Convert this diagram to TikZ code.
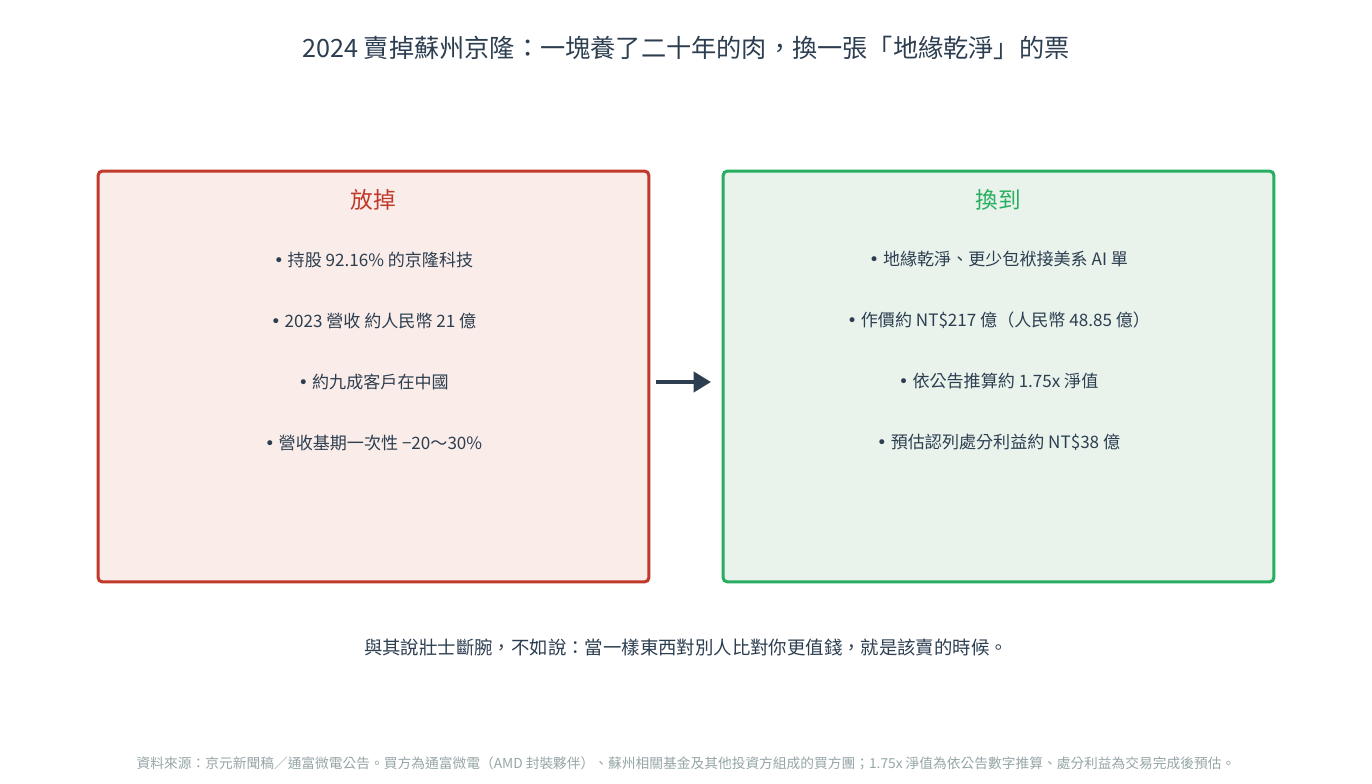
\documentclass[tikz,border=0pt]{standalone}
\usepackage{fontspec}
\setmainfont{Noto Sans CJK TC}
\newfontfamily\dotfont{DejaVu Sans}
\usetikzlibrary{positioning, arrows.meta}
\definecolor{ink}{HTML}{2C3E50}
\definecolor{lossred}{HTML}{C0392B}
\definecolor{lossfill}{HTML}{FAECE8}
\definecolor{gaingreen}{HTML}{27AE60}
\definecolor{gainfill}{HTML}{E9F3EC}
\definecolor{srcgray}{HTML}{95A5A6}
\newcommand{\bul}{{\dotfont •}\ }

\begin{document}
\begin{tikzpicture}[x=0.75pt, y=-0.75pt, node distance=45.75pt,
    panel/.style={draw, line width=2.3pt, rounded corners=3pt, minimum width=413pt, minimum height=308pt, inner sep=0pt},
    heading/.style={font=\fontsize{17}{20}\selectfont, inner sep=0pt},
    item/.style={font=\fontsize{12.8}{15}\selectfont, text=ink, inner sep=0pt}]
		\useasboundingbox (0,0) rectangle (1372,784);
		\node[font=\fontsize{18.9}{22}\selectfont, text=ink] (title) at (686,48) {2024 賣掉蘇州京隆：一塊養了二十年的肉，換一張「地緣乾淨」的票};
		
		\node[panel, draw=lossred, fill=lossfill] (lose) at (373.5,376.5) {};
		\node[panel, draw=gaingreen, fill=gainfill] (gain) at (998.5,376.5) {};
		
		\node[heading, text=lossred] (loseh) at (373.5,200) {放掉};
		\node[item] (l1) at (373.5,260) {\bul 持股 92.16\% 的京隆科技};
		\node[item] (l2) [below of=l1] {\bul 2023 營收 約人民幣 21 億};
		\node[item] (l3) [below of=l2] {\bul 約九成客戶在中國};
		\node[item] (l4) [below of=l3] {\bul 營收基期一次性 −20～30\%};
		
		\node[heading, text=gaingreen] (gainh) at (998.5,200) {換到};
		\node[item] (g1) at (998.5,259) {\bul 地緣乾淨、更少包袱接美系 AI 單};
		\node[item] (g2) [below of=g1] {\bul 作價約 NT\$217 億（人民幣 48.85 億）};
		\node[item] (g3) [below of=g2] {\bul 依公告推算約 1.75x 淨值};
		\node[item] (g4) [below of=g3] {\bul 預估認列處分利益約 NT\$38 億};
		
		\draw[-{Triangle[length=13pt, width=15pt]}, line width=3pt, ink, shorten <=4pt, shorten >=8pt] (lose.east |- l3) -- (gain.west |- l3);
		
		\node[item, font=\fontsize{13.8}{16}\selectfont] (moral) at (686,647) {與其說壯士斷腕，不如說：當一樣東西對別人比對你更值錢，就是該賣的時候。};
		\node[font=\fontsize{10.3}{12}\selectfont, text=srcgray, inner sep=0pt] (source) at (686,763) {資料來源：京元新聞稿／通富微電公告。買方為通富微電（AMD 封裝夥伴）、蘇州相關基金及其他投資方組成的買方團；1.75x 淨值為依公告數字推算、處分利益為交易完成後預估。};
	\end{tikzpicture}
\end{document}
